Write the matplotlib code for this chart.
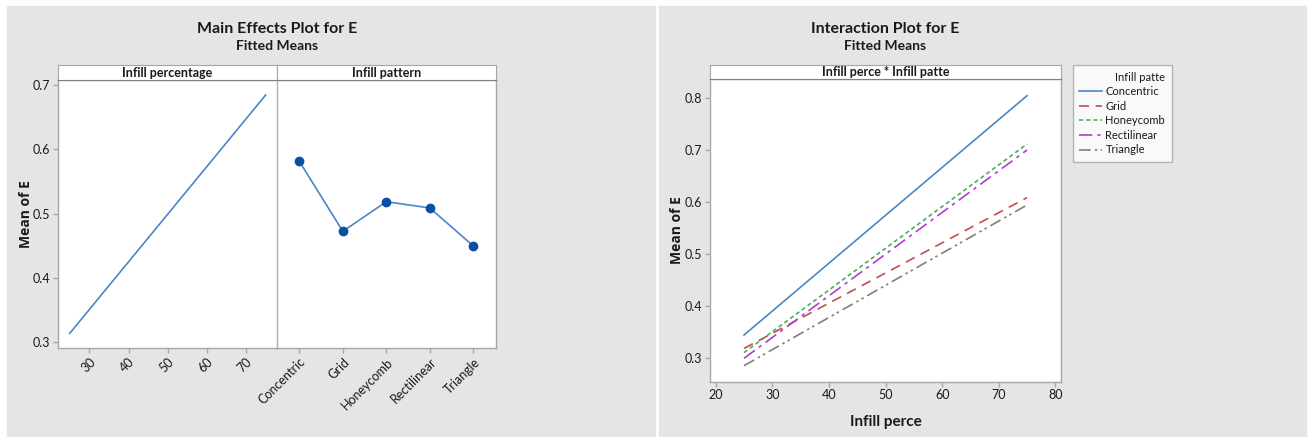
import matplotlib
matplotlib.use("Agg")
import matplotlib.pyplot as plt
from matplotlib.patches import Rectangle

plt.rcParams['font.family'] = ['Lato', 'DejaVu Sans']

# ---- data ----
pct_levels = [25, 75]
pct_means = [0.3135, 0.6844]
pct_ticks = [30, 40, 50, 60, 70]

patterns = ["Concentric", "Grid", "Honeycomb", "Rectilinear", "Triangle"]
pattern_means = [0.5812, 0.4723, 0.5184, 0.5086, 0.4494]

inter_x = [25, 75]
inter_series = {
    "Concentric": [0.3448, 0.805],
    "Grid": [0.319, 0.609],
    "Honeycomb": [0.311, 0.712],
    "Rectilinear": [0.300, 0.7006],
    "Triangle": [0.2858, 0.5948],
}
inter_xticks = [20, 30, 40, 50, 60, 70, 80]
inter_yticks = [0.3, 0.4, 0.5, 0.6, 0.7, 0.8]
main_yticks = [0.3, 0.4, 0.5, 0.6, 0.7]

W, H = 1308, 437
fig = plt.figure(figsize=(W / 100, H / 100), dpi=100, facecolor='white')

BG = '#e5e5e5'
SP = '#a6a6a6'
TXT = '#1a1a1a'
YLAB_FAM = ['Open Sans', 'DejaVu Sans']

def fr(x0, y0, x1, y1):
    return [x0 / W, 1 - y1 / H, (x1 - x0) / W, (y1 - y0) / H]

fig.patches.append(Rectangle((7 / W, 0), (655 - 7) / W, 1 - 6 / H,
                             transform=fig.transFigure, color=BG, zorder=-10))
fig.patches.append(Rectangle((659 / W, 0), (1306 - 659) / W, 1 - 6 / H,
                             transform=fig.transFigure, color=BG, zorder=-10))

def style(ax):
    ax.set_facecolor('white')
    for s in ax.spines.values():
        s.set_color(SP)
        s.set_linewidth(1.0)
    ax.tick_params(direction='out', color=SP, length=3.5, width=1, pad=2,
                   labelsize=9, labelcolor=TXT)

def strip(rect, text):
    sa = fig.add_axes(rect)
    sa.set_facecolor('white')
    for s in sa.spines.values():
        s.set_color(SP)
    sa.spines['bottom'].set_color('#808080')
    sa.set_xticks([]); sa.set_yticks([])
    sa.text(0.5, 0.48, text, ha='center', va='center', fontsize=9,
            fontweight='bold', color=TXT, transform=sa.transAxes)
    return sa

# ---- Main effects ----
ylo, yhi = 0.2907, 0.7078
ax1 = fig.add_axes(fr(58, 80, 277, 348))
style(ax1)
ax1.plot(pct_levels, pct_means, color='#4a86c8', lw=1.2)
ax1.set_xlim(22, 77.9)
ax1.set_ylim(ylo, yhi)
ax1.set_xticks(pct_ticks)
ax1.set_xticklabels([str(t) for t in pct_ticks], rotation=45, ha='right',
                    rotation_mode='anchor')
ax1.set_yticks(main_yticks)
ax1.set_yticklabels([f"{t:.1f}" for t in main_yticks])
ax1.spines['right'].set_visible(False)
ax1.set_ylabel("Mean of E", fontsize=10, fontweight='bold', color=TXT,
               family=YLAB_FAM)
ax1.yaxis.set_label_coords((33 - 58) / 219, 0.5)

ax2 = fig.add_axes(fr(277, 80, 496, 348))
style(ax2)
pos = list(range(1, len(patterns) + 1))
ax2.plot(pos, pattern_means, color='#4a86c8', lw=1.2, marker='o',
         markersize=6, markerfacecolor='#0b4fa0', markeredgecolor='#0b4fa0')
ax2.set_xlim(0.487, 5.52)
ax2.set_ylim(ylo, yhi)
ax2.set_xticks(pos)
ax2.set_xticklabels(patterns, rotation=45, ha='right', rotation_mode='anchor')
ax2.set_yticks([])
ax2.spines['left'].set_color('#b0b0b0')

strip(fr(58, 65, 277, 80), "Infill percentage")
strip(fr(277, 65, 496, 80), "Infill pattern")

fig.text(277 / W, 1 - 29 / H, "Main Effects Plot for E", ha='center',
         va='center', fontsize=11.5, fontweight='bold', color=TXT)
fig.text(277 / W, 1 - 46 / H, "Fitted Means", ha='center', va='center',
         fontsize=10, fontweight='bold', color=TXT)

# ---- Interaction ----
ax3 = fig.add_axes(fr(710, 79.3, 1061, 381.7))
style(ax3)
styles = {
    "Concentric": dict(color='#4a86c8', ls='-'),
    "Grid": dict(color='#c0504d', ls=(0, (6, 4))),
    "Honeycomb": dict(color='#4caf50', ls=(0, (2.5, 1.8))),
    "Rectilinear": dict(color='#b23ad6', ls=(0, (8, 3, 2, 3))),
    "Triangle": dict(color='#7f7f7f', ls=(0, (7, 2.5, 1.5, 2, 1.5, 2.5))),
}
for name in patterns:
    ax3.plot(inter_x, inter_series[name], lw=1.2, label=name, **styles[name])
ax3.set_xlim(18.99, 81.0)
ax3.set_ylim(0.255, 0.8365)
ax3.set_xticks(inter_xticks)
ax3.set_yticks(inter_yticks)
ax3.set_yticklabels([f"{t:.1f}" for t in inter_yticks])
ax3.set_xlabel("Infill perce", fontsize=11, fontweight='bold', color=TXT)
ax3.xaxis.set_label_coords(0.5, -(415 - 381.7) / 302.4)
ax3.set_ylabel("Mean of E", fontsize=10, fontweight='bold', color=TXT,
               family=YLAB_FAM)
ax3.yaxis.set_label_coords((684 - 710) / 351, 0.5)

strip(fr(710, 65, 1061, 79.3), "Infill perce * Infill patte")

fig.text(885 / W, 1 - 29 / H, "Interaction Plot for E", ha='center',
         va='center', fontsize=11.5, fontweight='bold', color=TXT)
fig.text(885 / W, 1 - 46 / H, "Fitted Means", ha='center', va='center',
         fontsize=10, fontweight='bold', color=TXT)

leg = ax3.legend(loc='upper left', bbox_to_anchor=(1072.7 / W, 1 - 65 / H),
                 bbox_transform=fig.transFigure, title="Infill patte",
                 fontsize=8, title_fontsize=8, frameon=True,
                 fancybox=False, edgecolor=SP, handlelength=2.0,
                 handletextpad=0.35, labelspacing=0.32, borderpad=0.6,
                 borderaxespad=0, alignment='right')
leg.get_frame().set_linewidth(1.0)
for t in leg.get_texts():
    t.set_color(TXT)
leg.get_title().set_color(TXT)

fig.savefig("out.png", dpi=100, facecolor='white')
